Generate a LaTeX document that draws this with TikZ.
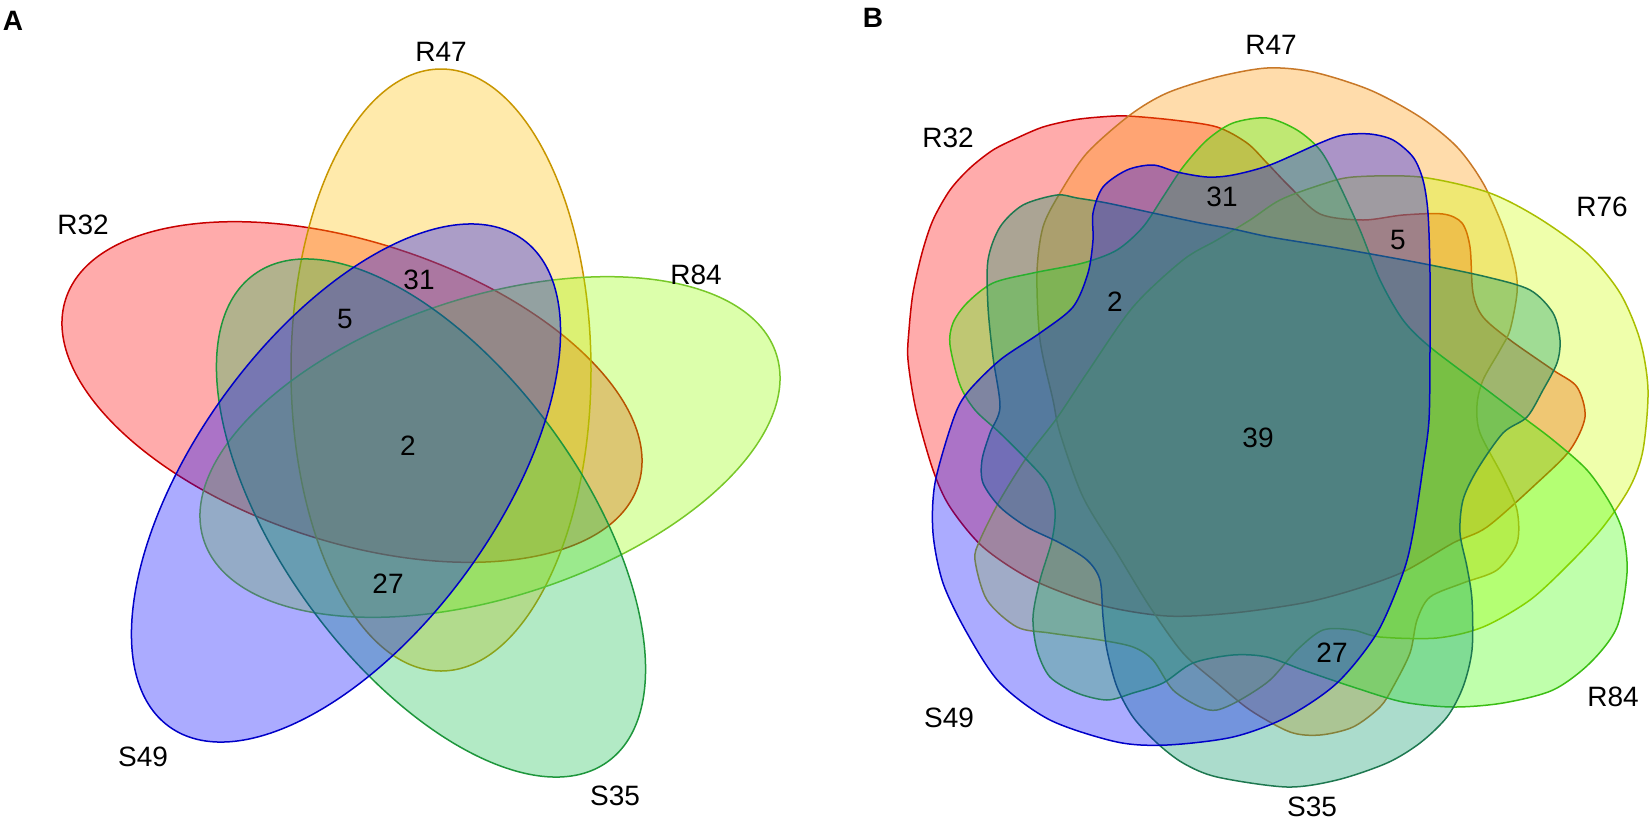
\documentclass[tikz,border=0pt]{standalone}
\usepackage{fontspec}
\setmainfont{Liberation Sans}
\definecolor{fR32}{RGB}{255,0,0}
\definecolor{bR32}{RGB}{200,0,0}
\definecolor{fR47a}{RGB}{255,190,0}
\definecolor{bR47a}{RGB}{200,150,0}
\definecolor{fR84a}{RGB}{150,255,0}
\definecolor{bR84a}{RGB}{120,200,40}
\definecolor{fS35a}{RGB}{20,190,80}
\definecolor{bS35a}{RGB}{30,150,60}
\definecolor{fS49}{RGB}{0,0,255}
\definecolor{bS49}{RGB}{0,0,200}
\definecolor{fR47b}{RGB}{255,150,0}
\definecolor{bR47b}{RGB}{200,120,40}
\definecolor{fR76}{RGB}{205,255,0}
\definecolor{bR76}{RGB}{170,190,0}
\definecolor{fR84b}{RGB}{60,255,0}
\definecolor{bR84b}{RGB}{60,190,20}
\definecolor{fS35b}{RGB}{0,150,100}
\definecolor{bS35b}{RGB}{30,120,80}
\begin{document}
\begin{tikzpicture}[x=0.5pt,y=-0.5pt,
  setshape/.style n args={2}{fill=#1,draw=#2,fill opacity=0.33,draw opacity=1,line width=0.75pt},
  lab/.style={font=\fontsize{14}{16}\selectfont,inner sep=0pt},
  panel/.style={font=\fontsize{14}{16}\selectfont\bfseries,inner sep=0pt}]
\useasboundingbox (0,0) rectangle (1650,826);
% ---------- Panel A ----------
\filldraw[setshape={fR32}{bR32},shift={(352,392)},rotate=-18] (0,0) ellipse [x radius=301,y radius=150];
\filldraw[setshape={fR47a}{bR47a},shift={(441,370)},rotate=90] (0,0) ellipse [x radius=301,y radius=150];
\filldraw[setshape={fR84a}{bR84a},shift={(490,447)},rotate=18] (0,0) ellipse [x radius=301,y radius=150];
\filldraw[setshape={fS35a}{bS35a},shift={(431,518)},rotate=-54] (0,0) ellipse [x radius=301,y radius=150];
\filldraw[setshape={fS49}{bS49},shift={(346,483)},rotate=54] (0,0) ellipse [x radius=301,y radius=150];
\node[panel] (pA) at (13,21) {A};
\node[lab] (aR47) at (441,52) {R47};
\node[lab] (aR32) at (83,225) {R32};
\node[lab] (aR84) at (696,275) {R84};
\node[lab] (aS49) at (143,757) {S49};
\node[lab] (aS35) at (615,796) {S35};
\node[lab] (a31) at (419,280) {31};
\node[lab] (a5) at (345,319) {5};
\node[lab] (a2) at (408,446) {2};
\node[lab] (a27) at (388,584) {27};
% ---------- Panel B ----------
\filldraw[setshape={fR32}{bR32}] plot[smooth cycle,tension=0.5] coordinates {(908,360) (909,330) (913,293) (922,253) (933,220) (950,190) (970,168) (993,150) (1017,138) (1043,127) (1073,120) (1100,117) (1127,116) (1173,120) (1217,127) (1247,143) (1267,163) (1290,187) (1320,214) (1363,220) (1403,215) (1443,214) (1462,223) (1470,247) (1473,293) (1483,317) (1510,340) (1553,370) (1577,387) (1585,417) (1570,450) (1537,483) (1487,527) (1453,543) (1403,572) (1353,590) (1303,603) (1233,613) (1167,616) (1100,605) (1033,580) (983,547) (950,507) (933,470) (916,410)};
\filldraw[setshape={fR47b}{bR47b}] plot[smooth cycle,tension=0.5] coordinates {(1053,400) (1040,340) (1037,273) (1043,227) (1060,193) (1087,153) (1130,115) (1167,93) (1217,77) (1267,68) (1313,72) (1370,90) (1420,117) (1457,147) (1483,183) (1503,227) (1515,267) (1517,293) (1510,330) (1500,350) (1483,380) (1477,405) (1480,433) (1503,477) (1517,510) (1517,543) (1497,570) (1463,583) (1430,597) (1417,620) (1410,653) (1393,687) (1380,707) (1353,727) (1320,735) (1290,732) (1250,710) (1217,683) (1183,653) (1150,607) (1117,553) (1083,497) (1060,433)};
\filldraw[setshape={fR76}{bR76}] plot[smooth cycle,tension=0.5] coordinates {(980,540) (1000,500) (1027,457) (1057,418) (1087,373) (1133,307) (1183,260) (1217,240) (1250,220) (1280,200) (1320,185) (1353,177) (1420,177) (1487,192) (1537,217) (1587,253) (1620,293) (1640,340) (1648,390) (1643,450) (1630,487) (1603,527) (1570,563) (1530,600) (1483,627) (1437,638) (1380,637) (1353,630) (1323,630) (1297,650) (1270,680) (1240,700) (1217,710) (1200,707) (1173,690) (1153,660) (1133,647) (1100,640) (1050,633) (1017,627) (987,600) (975,560)};
\filldraw[setshape={fR84b}{bR84b}] plot[smooth cycle,tension=0.5] coordinates {(950,345) (953,323) (967,303) (993,283) (1033,273) (1083,263) (1117,250) (1143,227) (1163,197) (1183,167) (1207,140) (1233,123) (1267,118) (1297,130) (1320,150) (1337,180) (1360,230) (1380,280) (1403,320) (1430,347) (1483,387) (1520,415) (1553,440) (1587,470) (1610,503) (1623,533) (1627,573) (1617,627) (1590,663) (1553,690) (1503,703) (1453,707) (1403,702) (1353,687) (1303,670) (1267,657) (1233,655) (1193,663) (1163,683) (1133,693) (1107,700) (1077,693) (1050,677) (1037,650) (1033,617) (1040,580) (1052,540) (1055,510) (1047,483) (1027,460) (1000,433) (975,410) (960,385)};
\filldraw[setshape={fS35b}{bS35b}] plot[smooth cycle,tension=0.5] coordinates {(1000,407) (993,357) (988,307) (988,260) (1000,227) (1023,205) (1057,195) (1077,198) (1107,203) (1153,213) (1200,223) (1233,229) (1270,237) (1337,248) (1420,263) (1487,277) (1530,290) (1553,313) (1560,340) (1557,363) (1543,390) (1527,417) (1503,433) (1477,470) (1463,500) (1460,533) (1467,567) (1472,600) (1472,650) (1463,687) (1447,717) (1420,743) (1387,763) (1337,780) (1287,787) (1217,777) (1183,763) (1157,743) (1133,717) (1117,687) (1107,650) (1103,617) (1100,580) (1087,560) (1060,543) (1027,527) (1000,507) (983,483) (982,460) (990,433)};
\filldraw[setshape={fS49}{bS49}] plot[smooth cycle,tension=0.5] coordinates {(953,420) (967,393) (1000,360) (1040,333) (1073,307) (1088,273) (1093,240) (1093,213) (1103,187) (1127,170) (1153,165) (1177,172) (1207,177) (1233,175) (1270,165) (1320,143) (1343,135) (1370,134) (1393,140) (1413,157) (1423,180) (1428,213) (1430,273) (1430,350) (1429,420) (1423,467) (1413,533) (1403,573) (1377,633) (1337,683) (1287,717) (1233,737) (1167,745) (1117,742) (1050,720) (1000,683) (967,633) (943,583) (933,533) (935,483)};
\node[panel] (pB) at (873,18) {B};
\node[lab] (bR47) at (1271,45) {R47};
\node[lab] (bR32) at (948,138) {R32};
\node[lab] (bR76) at (1602,207) {R76};
\node[lab] (bR84) at (1613,697) {R84};
\node[lab] (bS35) at (1312,807) {S35};
\node[lab] (bS49) at (949,718) {S49};
\node[lab] (b31) at (1222,197) {31};
\node[lab] (b5) at (1398,240) {5};
\node[lab] (b2) at (1115,302) {2};
\node[lab] (b39) at (1258,438) {39};
\node[lab] (b27) at (1332,653) {27};
\end{tikzpicture}
\end{document}
